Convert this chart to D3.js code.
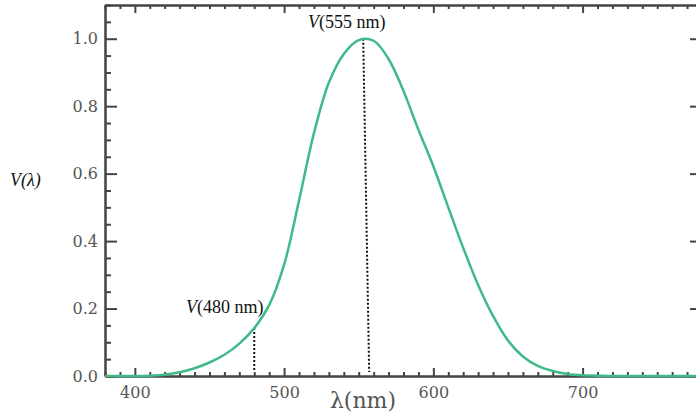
<!DOCTYPE html>
<html>
<head>
<meta charset="utf-8">
<script src="https://cdn.jsdelivr.net/npm/d3@7.9.0/dist/d3.min.js"></script>
<style>
  html, body { margin: 0; padding: 0; background: #fff; }
  svg { display: block; }
  .axis path, .axis line { stroke: #444; stroke-width: 2; }
  .axis text { font-family: 'DejaVu Serif', serif; font-size: 16px; fill: #555; }
  .note { font-family: 'Liberation Serif', 'Times New Roman', serif; font-size: 18px; fill: #111; }
</style>
</head>
<body>
<svg id="chart" width="696" height="414"></svg>
<script>
// wavelength samples (nm) and V(lambda)
const wavelengths = [380, 390, 400, 410, 420, 430, 440, 450, 460, 470, 480, 490, 500, 510, 520, 530, 540, 550, 560, 570, 580, 590, 600, 610, 620, 630, 640, 650, 660, 670, 680, 690, 700, 710, 720, 740, 760, 780];
const luminosity = [0, 0, 0, 0.001, 0.004, 0.011, 0.023, 0.04, 0.063, 0.096, 0.142, 0.21, 0.33, 0.52, 0.72, 0.87, 0.955, 0.996, 0.994, 0.94, 0.845, 0.73, 0.622, 0.5, 0.38, 0.27, 0.178, 0.105, 0.058, 0.03, 0.015, 0.006, 0.002, 0.001, 0, 0, 0, 0];

const xMajorTicks = [400, 500, 600, 700];
const yMajorTicks = [0, 0.2, 0.4, 0.6, 0.8, 1.0];

// dotted markers: top wavelength, bottom wavelength, value
const markers = [
  { label: '480 nm', top: 480, bottom: 480, value: 0.142 },
  { label: '555 nm', top: 553, bottom: 557, value: 1.0 },
];

const svg = d3.select('#chart');
const x = d3.scaleLinear().domain([380, 780]).range([105, 702]);
const y = d3.scaleLinear().domain([0, 1.1]).range([376, 5]);

const xMinor = d3.range(380, 781, 10).filter((d) => !xMajorTicks.includes(d));
const yMinor = d3.range(0, 1.101, 0.05).filter((d) => !yMajorTicks.some((t) => Math.abs(t - d) < 1e-6));

function drawAxis(axis, transform) {
  return svg.append('g').attr('class', 'axis').attr('transform', transform).call(axis);
}

// bottom axis
drawAxis(d3.axisBottom(x).tickValues(xMinor).tickSizeInner(-4).tickSizeOuter(0).tickFormat(''), `translate(0,${y(0)})`);
drawAxis(d3.axisBottom(x).tickValues(xMajorTicks).tickSizeInner(-8).tickSizeOuter(0).tickPadding(11).tickFormat(d3.format('d')), `translate(0,${y(0)})`);

// top axis
drawAxis(d3.axisTop(x).tickValues(xMinor).tickSizeInner(-4).tickSizeOuter(0).tickFormat(''), `translate(0,${y(1.1)})`);
drawAxis(d3.axisTop(x).tickValues(xMajorTicks).tickSizeInner(-8).tickSizeOuter(0).tickFormat(''), `translate(0,${y(1.1)})`);

// left axis
drawAxis(d3.axisLeft(y).tickValues(yMinor).tickSizeInner(-6).tickSizeOuter(0).tickFormat(''), `translate(${x(380)},0)`);
drawAxis(d3.axisLeft(y).tickValues(yMajorTicks).tickSizeInner(-12).tickSizeOuter(0).tickPadding(7).tickFormat(d3.format('.1f')), `translate(${x(380)},0)`);

// right axis
drawAxis(d3.axisRight(y).tickValues(yMinor).tickSizeInner(-6).tickSizeOuter(0).tickFormat(''), `translate(${x(780)},0)`);
drawAxis(d3.axisRight(y).tickValues(yMajorTicks).tickSizeInner(-12).tickSizeOuter(0).tickFormat(''), `translate(${x(780)},0)`);

// dotted markers
svg.append('g')
  .selectAll('line')
  .data(markers)
  .join('line')
  .attr('x1', (d) => x(d.top))
  .attr('y1', (d) => y(d.value))
  .attr('x2', (d) => x(d.bottom))
  .attr('y2', y(0) - 4)
  .attr('stroke', '#111')
  .attr('stroke-width', 2)
  .attr('stroke-dasharray', '2,2');

// curve
const line = d3.line()
  .x((d) => x(d[0]))
  .y((d) => Math.min(y(0), y(d[1])))
  .curve(d3.curveCatmullRom.alpha(0.5));

svg.append('path')
  .datum(d3.zip(wavelengths, luminosity))
  .attr('d', line)
  .attr('fill', 'none')
  .attr('stroke', '#3fba88')
  .attr('stroke-width', 2.5);

// annotations
function vLabel(text, px, py) {
  const t = svg.append('text').attr('class', 'note').attr('x', px).attr('y', py);
  t.append('tspan').attr('font-style', 'italic').text('V');
  t.append('tspan').text(text);
}
vLabel('(555 nm)', 308, 28);
vLabel('(480 nm)', 186, 313);

svg.append('text')
  .attr('class', 'note')
  .attr('x', 10)
  .attr('y', 186)
  .attr('font-style', 'italic')
  .text('V(λ)');

svg.append('text')
  .attr('x', 363)
  .attr('y', 408)
  .attr('text-anchor', 'middle')
  .attr('font-family', 'DejaVu Serif, serif')
  .attr('font-size', 22)
  .attr('fill', '#555')
  .text('λ(nm)');
</script>
</body>
</html>
